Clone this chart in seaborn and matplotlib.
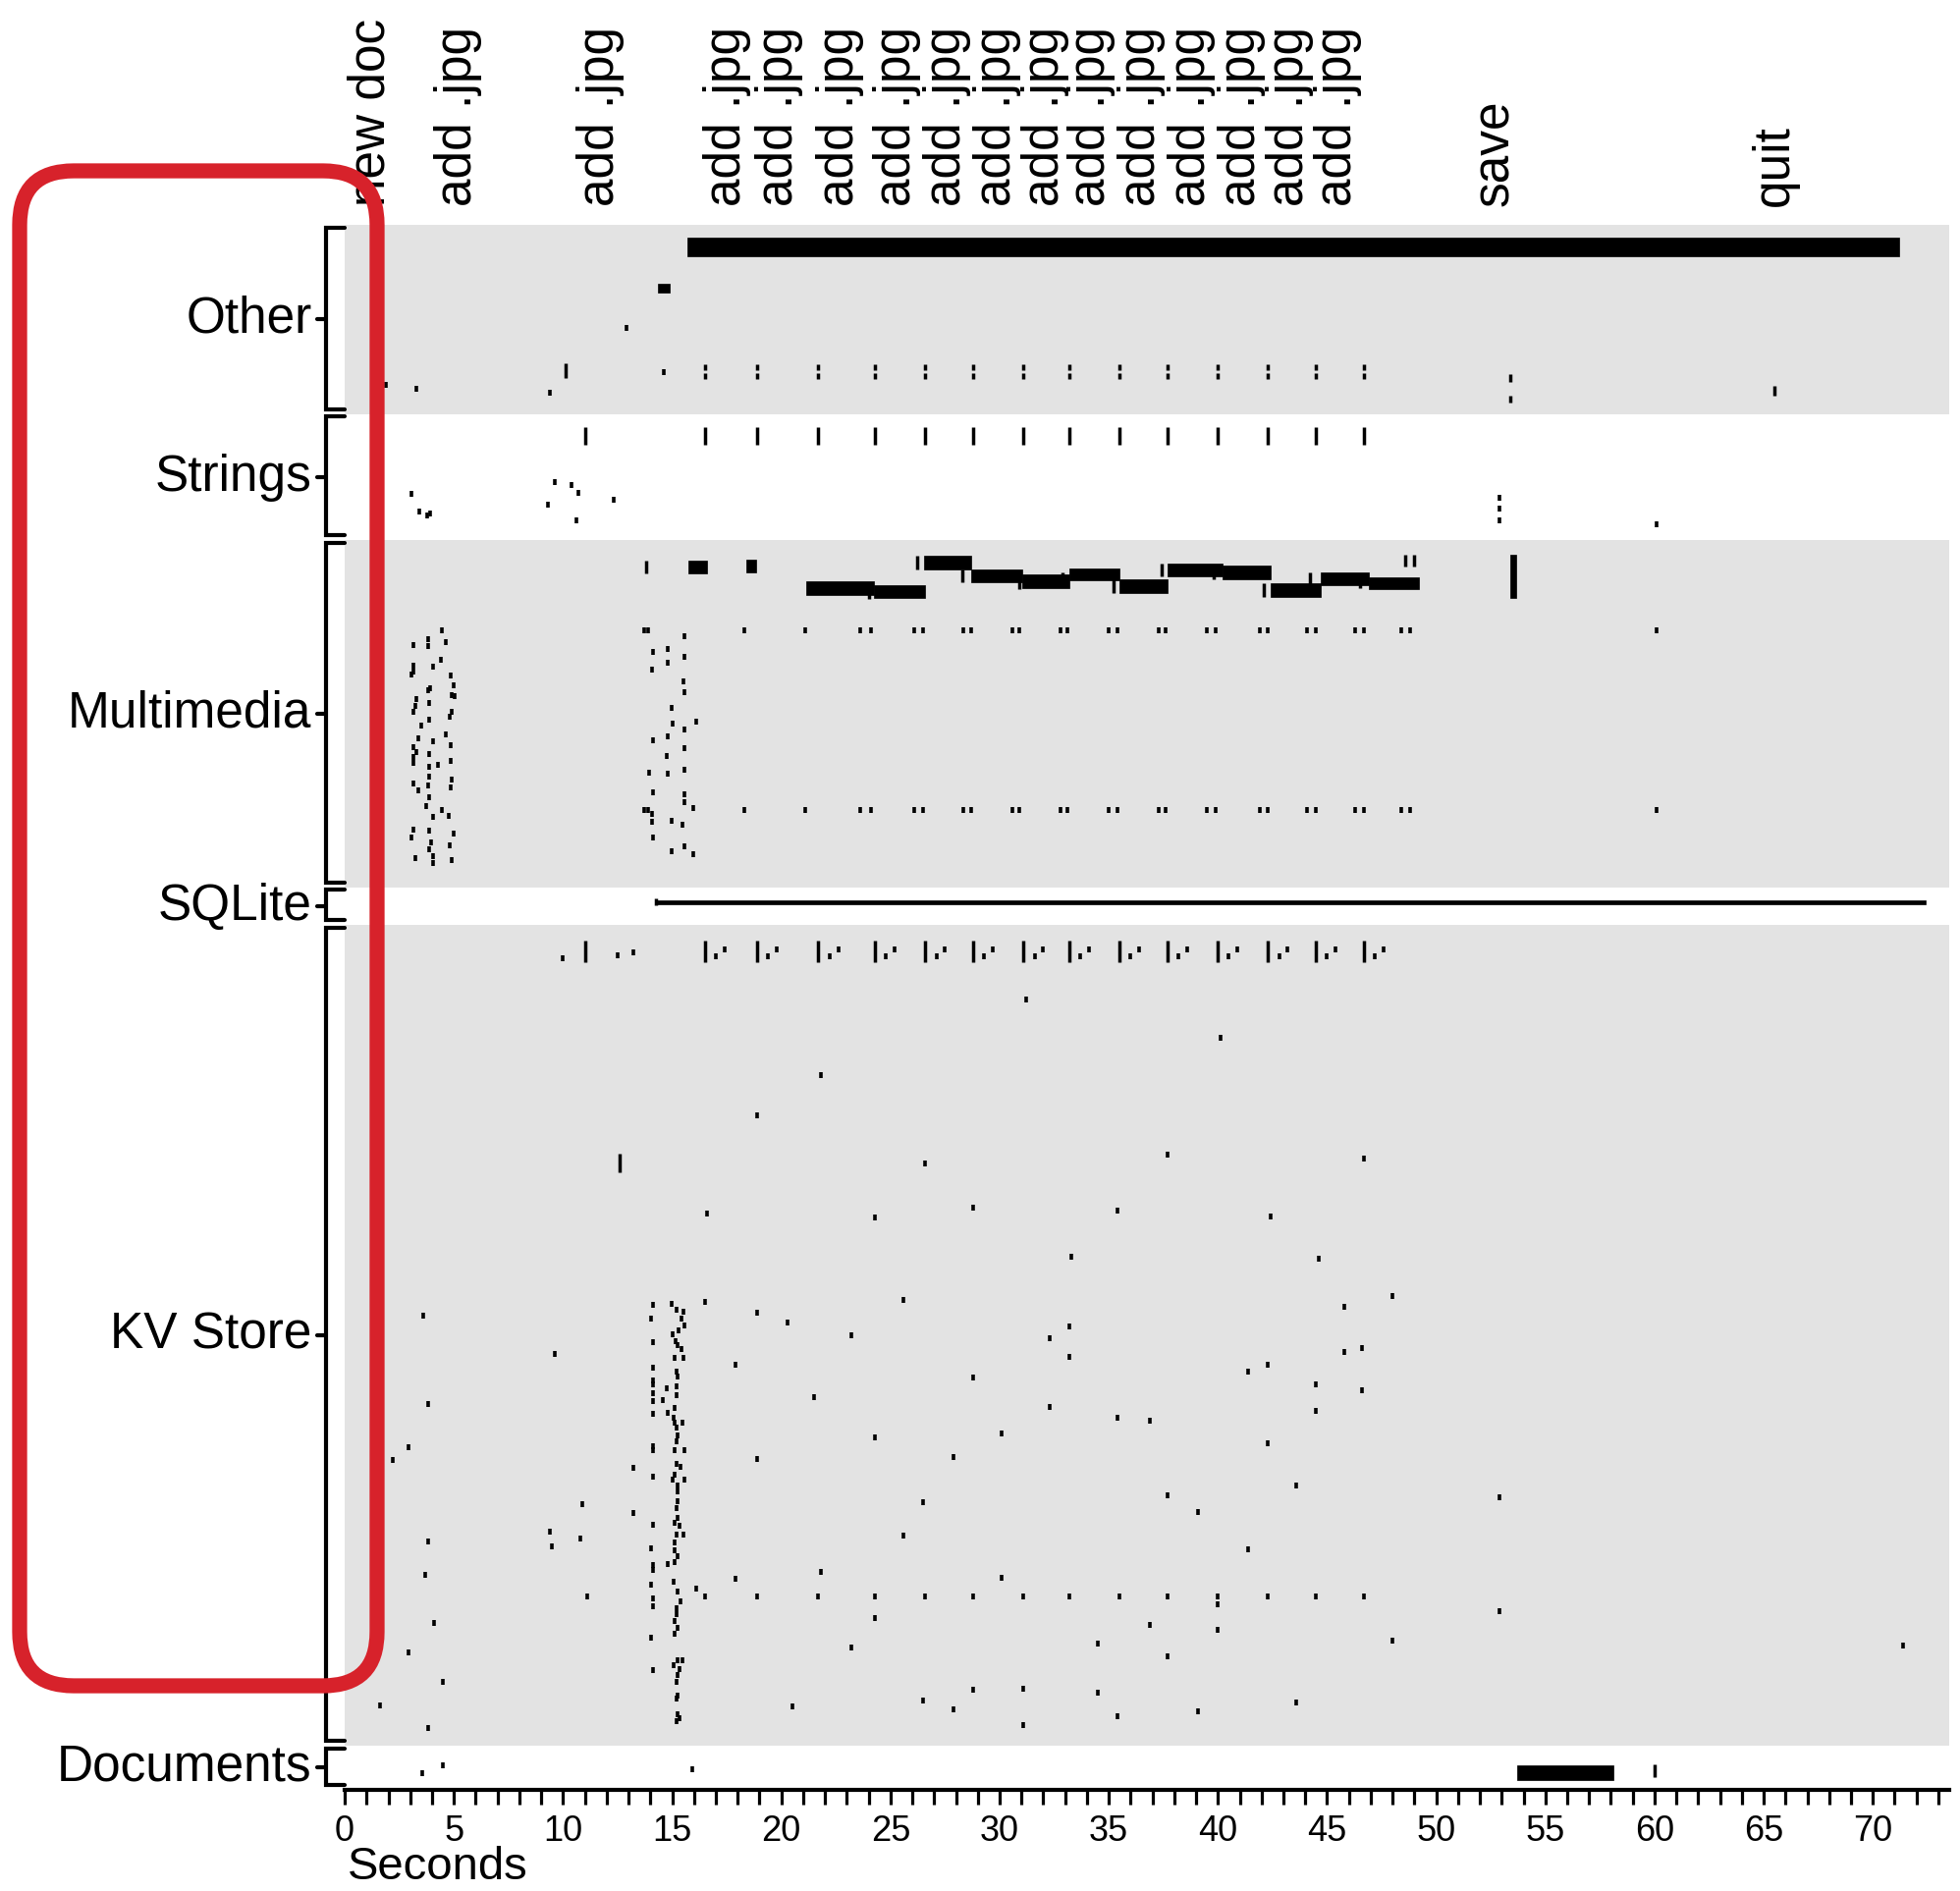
import matplotlib
matplotlib.use('Agg')
import matplotlib.pyplot as plt
from matplotlib.patches import FancyBboxPatch
from matplotlib.transforms import blended_transform_factory
import pandas as pd
import seaborn as sns

# categories top to bottom, with the row range (file rows) each one covers
groups = ['Other', 'Strings', 'Multimedia', 'SQLite', 'KV Store', 'Documents']
group_rows = [(0, 30), (30, 50), (50, 105), (105, 111), (111, 241), (241, 248)]
group_shaded = [True, False, True, False, True, False]

# user actions along the top
actions = ['new doc', 'add .jpg', 'add .jpg'] + ['add .jpg'] * 13 + ['save', 'quit']
action_times = [1.2, 5.2, 11.7, 17.5, 19.9, 22.7, 25.3, 27.6, 29.9, 32.1, 34.2,
                36.5, 38.8, 41.1, 43.3, 45.5, 52.7, 65.5]

# times where each repeated "add .jpg" step leaves the same I/O pattern
add_times = [16.5, 18.9, 21.7, 24.3, 26.6, 28.8, 31.1, 33.2, 35.5, 37.7, 40.0,
             42.3, 44.5, 46.7]

# --- Other
other_points = [(1.9, 25.3), (3.3, 26.0), (9.4, 26.6), (12.9, 16.3), (14.6, 23.3)]
other_ticks = [(10.1, 22.0, 24.3), (53.4, 23.7, 24.9), (53.4, 27.1, 28.1),
               (65.5, 25.5, 27.0)]
other_add_rows = [(22.1, 23.0), (23.5, 24.4)]
other_spans = [(15.7, 71.2, 2.0, 5.0), (14.35, 14.9, 9.3, 10.7)]

# --- Strings
strings_points = [(3.06, 42.7), (3.4, 45.4), (3.76, 46.0), (3.9, 45.8), (9.6, 40.7),
                  (10.4, 41.2), (10.7, 42.4), (9.3, 44.4), (12.3, 43.6), (10.6, 46.8),
                  (52.9, 43.3), (52.9, 45.0), (52.9, 46.9), (60.1, 47.4)]
strings_tick_times = [11.0]
strings_tick_rows = (32.1, 34.8)

# --- Multimedia
mm_spans = [(15.75, 16.6, 53.2, 55.2), (18.4, 18.85, 53.0, 55.0),
            (21.14, 24.25, 56.5, 58.6), (24.25, 26.56, 57.1, 59.2),
            (26.55, 28.7, 52.5, 54.6), (28.7, 31.05, 54.6, 56.7),
            (31.05, 33.2, 55.4, 57.5), (33.2, 35.5, 54.4, 56.4),
            (35.5, 37.7, 56.1, 58.3), (37.7, 40.2, 53.6, 55.7),
            (40.2, 42.4, 54.0, 56.2), (42.4, 44.7, 56.8, 58.9),
            (44.7, 46.9, 55.1, 57.1), (46.9, 49.2, 55.8, 57.8),
            (53.4, 53.65, 52.2, 59.1)]
mm_ticks = [(13.8, 53.2, 55.2), (26.2, 52.5, 54.6), (28.3, 54.6, 56.7),
            (37.4, 53.6, 55.7), (42.1, 56.8, 58.9), (48.6, 52.3, 54.1),
            (49.0, 52.3, 54.1), (24.0, 57.5, 59.3), (30.9, 56.0, 57.8),
            (32.9, 55.0, 56.5), (35.2, 56.1, 58.3), (39.8, 54.8, 56.2),
            (44.2, 55.1, 57.0), (46.5, 55.8, 57.5)]
mm_dot_times = [13.7, 13.9, 18.3, 21.1, 23.6, 24.1, 26.1, 26.5, 28.35, 28.7, 30.6,
                30.9, 32.8, 33.1, 35.0, 35.4, 37.3, 37.6, 39.5, 39.9, 41.9, 42.3,
                44.1, 44.5, 46.3, 46.7, 48.4, 48.8, 60.1]
mm_dot_rows = [64.2, 92.8]
mm_points = [
    (4.44, 64.2), (3.15, 66.6), (3.82, 65.6), (3.82, 66.8), (4.65, 66.1), (4.39, 69.0),
    (3.15, 69.8), (4.05, 70.0), (3.05, 71.3), (3.15, 70.8), (4.85, 71.4), (4.98, 72.9),
    (3.92, 73.5), (3.82, 73.8), (4.91, 74.5), (5.03, 74.7), (3.30, 75.2), (3.87, 75.7),
    (3.23, 76.3), (3.15, 77.2), (4.91, 77.1), (4.83, 78.0), (3.87, 78.4), (3.49, 79.4),
    (4.65, 80.7), (3.36, 81.3), (4.05, 81.9), (4.85, 82.4), (3.15, 82.8), (3.30, 83.5),
    (3.87, 83.8), (3.15, 84.4), (3.15, 85.3), (4.26, 85.6), (3.87, 85.9), (4.85, 84.9),
    (3.87, 87.5), (4.91, 87.9), (3.15, 88.6), (3.82, 88.9), (3.36, 89.6), (4.85, 89.1),
    (3.87, 90.7), (3.74, 92.1), (4.44, 92.8), (4.05, 93.8), (4.78, 93.7), (3.15, 95.8),
    (3.87, 96.0), (4.98, 96.4), (3.05, 97.1), (3.95, 97.8), (4.83, 98.4), (3.87, 99.0),
    (3.23, 100.4), (4.05, 100.0), (4.05, 101.2), (4.91, 100.7),
    (15.57, 65.2), (14.12, 67.7), (14.79, 67.2), (14.79, 69.4), (15.57, 68.5),
    (14.07, 70.5), (15.52, 72.4), (15.57, 74.1), (14.98, 76.6), (15.00, 79.1),
    (16.11, 78.7), (15.57, 80.0), (14.79, 81.0), (14.12, 81.7), (15.57, 83.0),
    (14.77, 84.1), (13.94, 86.8), (14.79, 87.0), (15.57, 86.4), (14.12, 90.0),
    (15.57, 90.3), (15.57, 91.5), (15.96, 92.4), (14.07, 93.3), (14.98, 94.4),
    (15.49, 95.1), (14.07, 94.6), (14.12, 97.1), (14.98, 99.3), (15.57, 98.5),
    (15.96, 99.7)]

# --- SQLite
sqlite_spans = [(14.2, 72.4, 107.1, 107.7)]
sqlite_ticks = [(14.25, 106.8, 107.8)]

# --- KV Store
kv_head_ticks = [(11.0, 113.5, 116.8)]
kv_head_points = [(10.0, 116.3), (12.5, 115.8), (13.2, 115.3)]
kv_head_rows = {'tall': (113.5, 116.8), 'mid': 115.9, 'high': 114.9}
kv_step_times = [11.1]
kv_step_row = 217.3
kv_ticks = [(12.6, 147.2, 150.1)]
kv_points = [
    (31.2, 122.8), (40.1, 128.8), (21.8, 134.8), (18.9, 141.1), (26.6, 148.7),
    (37.7, 147.3), (46.7, 147.9), (16.6, 156.7), (24.3, 157.3), (28.8, 155.7),
    (35.4, 156.2), (42.4, 157.1), (33.3, 163.5), (44.6, 163.8),
    (48.0, 169.8), (25.6, 170.3), (16.5, 170.7), (45.8, 171.4), (3.6, 172.8),
    (18.9, 172.4), (20.3, 173.9), (33.2, 174.5), (23.2, 176.0), (32.3, 176.5),
    (9.6, 179.0), (45.8, 178.6), (46.6, 178.0), (33.2, 179.4), (17.9, 180.6),
    (42.3, 180.7), (41.4, 181.8), (28.8, 182.6), (44.5, 183.7), (46.6, 184.7),
    (21.5, 185.8), (3.8, 186.9), (32.3, 187.3), (44.5, 188.0), (35.4, 189.0),
    (36.9, 189.5), (30.1, 191.5), (24.3, 192.2), (42.3, 193.1), (2.9, 193.7),
    (2.2, 195.8), (18.9, 195.6), (27.9, 195.2), (43.6, 199.8), (37.7, 201.4),
    (52.9, 201.6), (10.9, 202.8), (26.5, 202.4), (39.1, 203.9), (9.4, 207.1),
    (10.8, 208.1), (3.8, 208.6), (9.5, 209.4), (25.6, 207.7), (41.4, 209.9),
    (3.7, 214.0), (21.8, 213.5), (17.9, 214.6), (30.1, 214.4), (40.0, 218.6),
    (52.9, 219.7), (24.3, 220.8), (4.1, 221.6), (36.9, 221.8), (40.0, 222.7),
    (48.0, 224.4), (34.5, 224.8), (23.2, 225.4), (71.4, 225.2), (2.9, 226.2),
    (37.7, 226.9), (4.5, 230.9), (28.8, 232.2), (31.1, 232.0), (34.5, 232.6),
    (26.5, 233.8), (43.6, 234.2), (1.6, 234.6), (20.5, 234.8), (27.9, 235.2),
    (39.1, 235.6), (35.4, 236.3), (31.1, 237.7), (3.8, 238.2)]
kv_cluster = [
    (14.12, 171.1), (14.98, 171.0), (15.18, 171.9), (15.52, 172.2), (14.02, 173.4),
    (15.43, 173.3), (15.55, 174.4), (15.30, 175.2), (15.02, 175.8), (14.12, 177.1),
    (15.14, 176.9), (15.25, 177.6), (15.43, 178.1), (15.10, 179.6), (15.52, 179.6),
    (14.12, 181.1), (15.18, 181.8), (15.25, 182.5), (14.12, 183.2), (14.12, 183.8),
    (14.77, 184.4), (15.18, 184.1), (14.12, 185.1), (14.57, 186.2), (14.12, 186.4),
    (15.18, 185.4), (15.10, 187.5), (14.80, 188.3), (14.12, 188.4), (15.07, 189.0),
    (15.10, 189.8), (15.47, 189.8), (15.18, 190.6), (15.25, 191.9), (15.18, 192.7),
    (14.12, 193.5), (14.12, 194.2), (15.10, 194.2), (15.55, 194.1), (13.23, 196.9),
    (15.18, 196.3), (15.40, 196.8), (14.12, 198.4), (15.10, 198.1), (15.02, 198.9),
    (15.55, 198.8), (15.25, 199.7), (15.25, 200.7), (15.25, 202.3), (15.18, 203.3),
    (13.23, 204.1), (15.25, 204.9), (15.10, 205.7), (14.12, 206.0), (15.32, 206.2),
    (15.52, 207.5), (15.18, 207.5), (15.10, 208.8), (14.05, 209.7), (15.10, 210.1),
    (15.25, 210.9), (14.80, 212.2), (15.10, 211.9), (14.12, 212.3), (14.12, 213.1),
    (15.07, 215.0), (14.05, 215.5), (15.25, 216.6), (16.11, 216.1), (15.40, 218.1),
    (14.12, 217.6), (14.12, 218.9), (15.18, 219.2), (15.18, 220.2), (15.10, 221.3),
    (15.25, 222.3), (15.10, 223.2), (14.05, 223.9), (15.25, 227.5), (15.47, 227.5),
    (15.07, 228.3), (15.32, 228.8), (14.12, 229.0), (15.25, 229.8), (15.18, 230.9),
    (15.25, 233.0), (15.18, 233.5), (15.25, 236.0), (15.32, 236.6), (15.18, 237.1)]

# --- Documents
doc_points = [(3.55, 245.4), (4.5, 244.1), (15.9, 244.7)]
doc_spans = [(53.7, 58.1, 244.1, 246.5)]
doc_ticks = [(60.0, 244.0, 246.0)]

# ---------------------------------------------------------------- assemble
points = other_points + strings_points + mm_points + kv_points + kv_cluster + doc_points
points += [(t, r) for t in mm_dot_times for r in mm_dot_rows]
points += kv_head_points
for t in add_times:
    points.append((t + 0.5, kv_head_rows['mid']))
    points.append((t + 0.9, kv_head_rows['high']))
points += [(t, kv_step_row) for t in kv_step_times + add_times]

ticks = other_ticks + mm_ticks + sqlite_ticks + kv_head_ticks + kv_ticks + doc_ticks
for t in add_times:
    for r0, r1 in other_add_rows:
        ticks.append((t, r0, r1))
for t in strings_tick_times + add_times:
    ticks.append((t, *strings_tick_rows))
for t in add_times:
    ticks.append((t, *kv_head_rows['tall']))

spans = other_spans + mm_spans + sqlite_spans + doc_spans

pts = pd.DataFrame(points, columns=['seconds', 'row'])

sns.set_theme(style='white')
plt.rcParams['font.family'] = ['Liberation Sans', 'DejaVu Sans']
plt.rcParams['text.color'] = 'black'
plt.rcParams['xtick.color'] = 'black'
plt.rcParams['xtick.labelcolor'] = 'black'

fig = plt.figure(figsize=(19.96, 19.26), dpi=100)
ax = fig.add_axes([0.1759, 0.0535, 0.8186, 0.8276])

for (r0, r1), shaded in zip(group_rows, group_shaded):
    if shaded:
        ax.axhspan(r0, r1, color='#E3E3E3', lw=0, zorder=0)

sns.scatterplot(data=pts, x='seconds', y='row', marker='|', s=22, linewidth=2.6,
                color='black', ax=ax, zorder=3, legend=False)
ax.vlines([t for t, _, _ in ticks], [a for _, a, _ in ticks], [b for _, _, b in ticks],
          color='black', lw=2.5, zorder=3)
ax.barh([(a + b) / 2 for _, _, a, b in spans], [t1 - t0 for t0, t1, _, _ in spans],
        left=[t0 for t0, _, _, _ in spans], height=[b - a for _, _, a, b in spans],
        color='black', edgecolor='black', lw=0.5, zorder=3)

ax.set_xlim(0, 73.5)
ax.set_ylim(248, 0)
ax.set_xlabel('')
ax.set_ylabel('')
ax.set_yticks([])
ax.set_xticks(range(0, 71, 5))
ax.set_xticks(range(0, 74), minor=True)
ax.tick_params(axis='x', which='both', direction='out', length=11, width=2.3,
               bottom=True, color='black', pad=7, labelsize=26, labelcolor='black')
for side in ['top', 'right', 'left']:
    ax.spines[side].set_visible(False)
ax.spines['bottom'].set_linewidth(3)
ax.spines['bottom'].set_color('black')

# brackets and group labels on the left
trans_y = blended_transform_factory(ax.transAxes, ax.transData)
xb = -0.0115
for name, (r0, r1) in zip(groups, group_rows):
    top, bot = r0 + 0.4, r1 - 0.8
    mid = (r0 + r1) / 2
    ax.plot([0.0, xb, xb, 0.0], [top, top, bot, bot], color='black', lw=3,
            transform=trans_y, clip_on=False, solid_joinstyle='miter')
    ax.plot([xb - 0.006, xb], [mid, mid], color='black', lw=3,
            transform=trans_y, clip_on=False)
    ax.text(-0.0205, mid, name, transform=trans_y, ha='right', va='center',
            fontsize=37)

# action labels along the top
trans_x = blended_transform_factory(ax.transData, ax.transAxes)
for name, t in zip(actions, action_times):
    ax.text(t, 1.012, name, transform=trans_x, rotation=90, ha='center',
            va='bottom', fontsize=37)

ax.text(0.002, -0.0572, 'Seconds', transform=ax.transAxes, ha='left',
        va='baseline', fontsize=34)

# red highlight round the category labels
box = FancyBboxPatch((0.20, 2.09), 3.64, 15.43,
                     boxstyle='round,pad=0,rounding_size=0.55',
                     transform=fig.dpi_scale_trans, fill=False,
                     edgecolor='#D7222B', lw=11, zorder=10)
fig.patches.append(box)

fig.savefig('out.png', dpi=100, facecolor='white')
